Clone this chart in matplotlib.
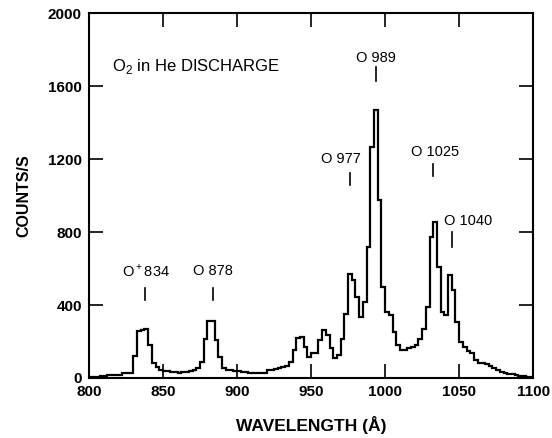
import numpy as np
import matplotlib
matplotlib.use('Agg')
import matplotlib.pyplot as plt

plt.rcParams['font.family'] = ['Liberation Sans', 'DejaVu Sans']
plt.rcParams['mathtext.fontset'] = 'custom'
plt.rcParams['mathtext.rm'] = 'Liberation Sans'

# counts per 2.5 A bin, 800 -> 1100 A
bin_start = 800
bin_width = 2.5
counts = [
    5, 5, 8, 10, 12, 15, 15, 16, 18, 25,          # 800-822.5
    25, 30, 120, 255, 262, 268, 180, 80, 60, 45,  # 825-847.5
    40, 38, 35, 33, 30, 32, 35, 37, 45, 55,       # 850-872.5
    90, 216, 313, 313, 208, 117, 53, 45, 42, 38,  # 875-897.5
    36, 33, 32, 30, 28, 25, 25, 28, 44, 45,       # 900-922.5
    50, 55, 58, 65, 90, 153, 218, 222, 171, 117,  # 925-947.5
    136, 136, 208, 262, 235, 162, 108, 126, 216, 353,  # 950-972.5
    572, 535, 444, 335, 417, 718, 1264, 1470, 973, 499,  # 975-997.5
    364, 344, 253, 180, 153, 153, 162, 170, 180, 216,    # 1000-1022.5
    271, 390, 773, 855, 608, 364, 344, 563, 481, 308,    # 1025-1047.5
    199, 171, 150, 135, 98, 80, 80, 78, 65, 53,          # 1050-1072.5
    45, 35, 30, 22, 20, 15, 11, 10, 8, 5,                # 1075-1097.5
]

line_labels = ['O$^+$834', 'O 878', 'O 977', 'O 989', 'O 1025', 'O 1040']
label_x = [838.5, 883.5, 970.5, 993.5, 1034, 1056]
label_y = [585, 585, 1202, 1754, 1240, 858]
mark_x = [837.8, 883.7, 976, 993.7, 1032, 1045]
mark_top = [492, 492, 1126, 1705, 1175, 798]
mark_bottom = [426, 426, 1060, 1628, 1109, 716]

xticks = [800, 850, 900, 950, 1000, 1050, 1100]
yticks = [0, 400, 800, 1200, 1600, 2000]

fig = plt.figure(figsize=(5.52, 4.38), dpi=100)
ax = fig.add_axes([0.161, 0.137, 0.805, 0.833])

edges = bin_start + bin_width * np.arange(len(counts) + 1)
ax.stairs(counts, edges, color='black', linewidth=1.6, baseline=None)

for lab, lx, ly in zip(line_labels, label_x, label_y):
    ax.text(lx, ly, lab, ha='center', va='center', fontsize=10.5)
for mx, mt, mb in zip(mark_x, mark_top, mark_bottom):
    ax.plot([mx, mx], [mb, mt], color='black', linewidth=1.2)

ax.text(0.052, 0.855, 'O$_2$ in He DISCHARGE', transform=ax.transAxes,
        ha='left', va='center', fontsize=12)

ax.set_xlim(800, 1100)
ax.set_ylim(0, 2000)
ax.set_xticks(xticks)
ax.set_yticks(yticks)
ax.tick_params(direction='in', length=10, width=1.2, top=True, right=True,
               labelsize=11, pad=5)
for t in ax.get_xticklabels() + ax.get_yticklabels():
    t.set_fontweight('bold')
for s in ax.spines.values():
    s.set_linewidth(1.5)

ax.set_xlabel('WAVELENGTH (Å)', fontsize=12.5, fontweight='bold', labelpad=12)
ax.set_ylabel('COUNTS/S', fontsize=11.5, fontweight='bold', labelpad=12)

fig.savefig('out.png', dpi=100)
